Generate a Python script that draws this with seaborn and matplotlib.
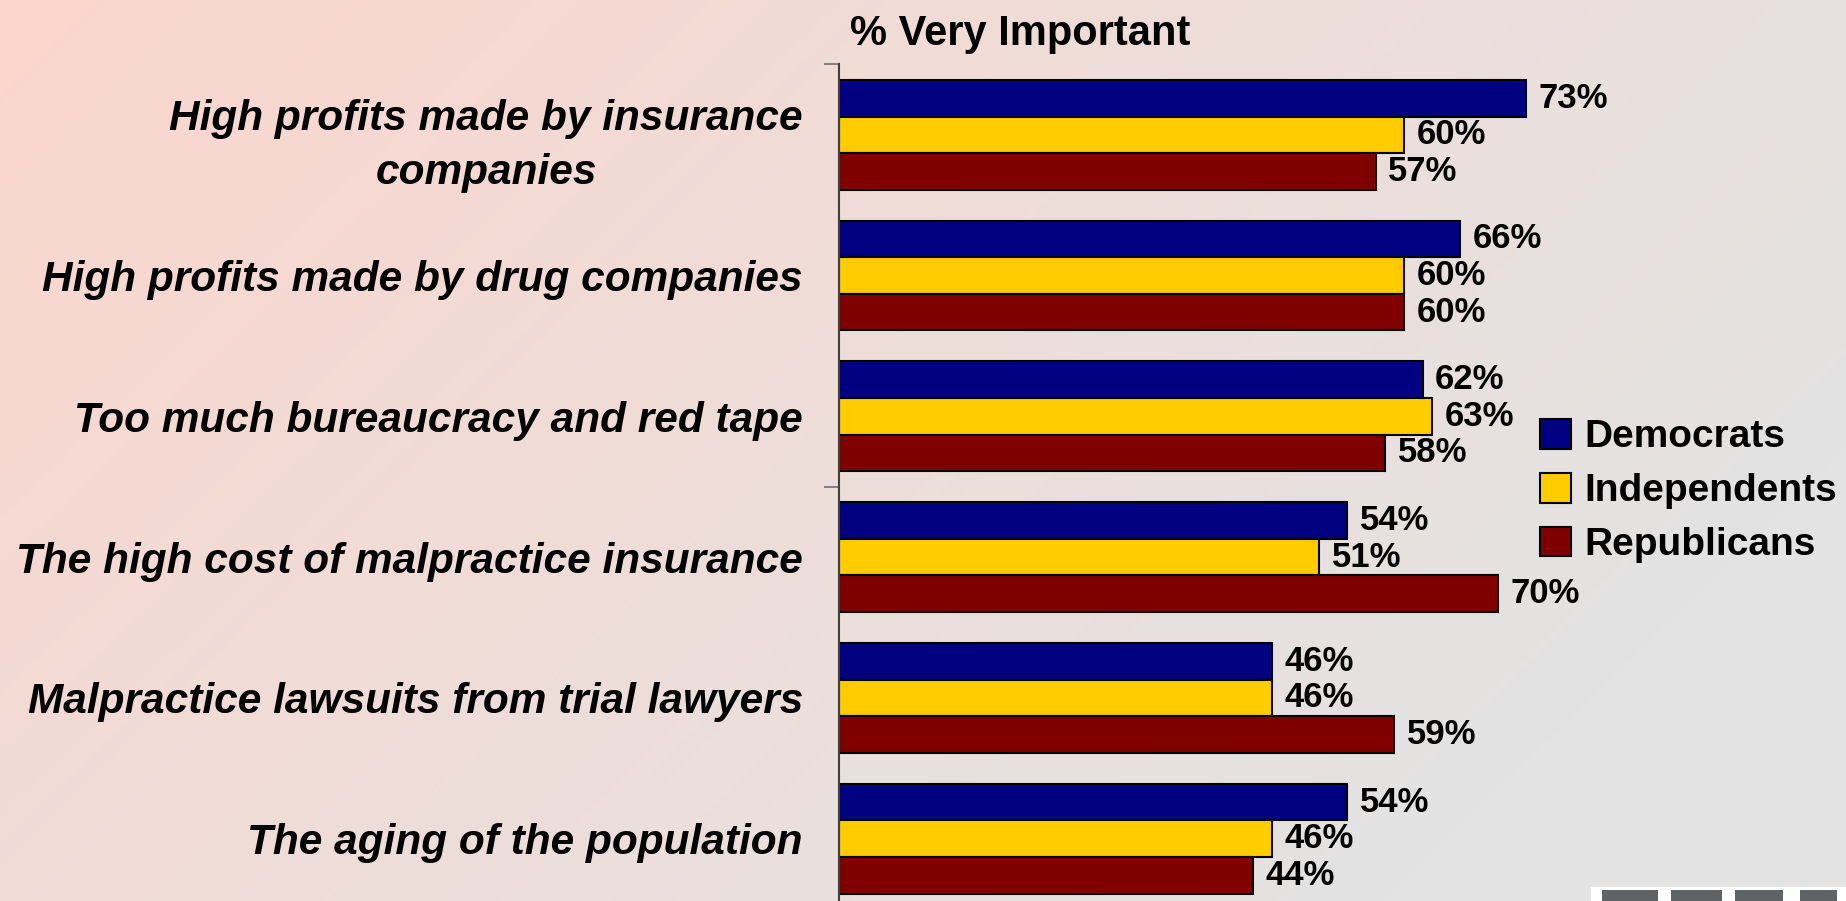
import matplotlib

matplotlib.use("Agg")
import matplotlib.pyplot as plt
import numpy as np
import pandas as pd
import seaborn as sns
from matplotlib.colors import to_rgb
from matplotlib.patches import Rectangle

issues = [
    "High profits made by insurance\ncompanies",
    "High profits made by drug companies",
    "Too much bureaucracy and red tape",
    "The high cost of malpractice insurance",
    "Malpractice lawsuits from trial lawyers",
    "The aging of the population",
]
parties = ["Democrats", "Independents", "Republicans"]
democrats = [73, 66, 62, 54, 46, 54]
independents = [60, 60, 63, 51, 46, 46]
republicans = [57, 60, 58, 70, 59, 44]
party_colors = ["#000080", "#FFCC00", "#800000"]

df = pd.DataFrame(
    {
        "Issue": issues * 3,
        "Party": [p for p in parties for _ in issues],
        "Pct": democrats + independents + republicans,
    }
)

sns.set_theme(style="white")
plt.rcParams["font.family"] = ["Liberation Sans", "DejaVu Sans"]
plt.rcParams["text.color"] = "black"
plt.rcParams["ytick.color"] = "black"

fig = plt.figure(figsize=(18.46, 9.01), dpi=100)

# pink-to-grey backdrop
bg = fig.add_axes([0, 0, 1, 1], zorder=-10)
xx, yy = np.meshgrid(np.linspace(0, 1, 400), np.linspace(0, 1, 200))
t = np.clip(0.8 * xx + 0.4 * yy, 0, 1)[..., None]
pink, grey = np.array(to_rgb("#FBD6CD")), np.array(to_rgb("#E3E3E3"))
bg.imshow(pink * (1 - t) + grey * t, aspect="auto", extent=[0, 1, 1, 0])
bg.set_axis_off()

ax = fig.add_axes([0.4545, -0.0089, 0.51, 0.9374])
ax.patch.set_alpha(0)
sns.barplot(
    data=df, x="Pct", y="Issue", hue="Party", orient="h", palette=party_colors,
    saturation=1, width=0.78, edgecolor="black", linewidth=1.5, ax=ax, errorbar=None,
)
ax.set_xlim(0, 100)
ax.set_ylim(5.5, -0.5)
for container in ax.containers:
    ax.bar_label(container, fmt="{:.0f}%", padding=9, fontsize=25, fontweight="bold",
                 color="black")

ax.set_xlabel("")
ax.set_ylabel("")
ax.set_xticks([])
for side in ["top", "right", "bottom"]:
    ax.spines[side].set_visible(False)
ax.spines["left"].set_color("#404040")
ax.spines["left"].set_linewidth(1.5)
ax.tick_params(axis="y", which="major", length=0, pad=26)
ax.set_yticks([-0.5, 2.5, 5.5], minor=True)
ax.tick_params(axis="y", which="minor", left=True, length=11, color="#707070", width=1.2)
for lbl in ax.get_yticklabels():
    lbl.set_fontsize(30.5)
    lbl.set_fontweight("bold")
    lbl.set_fontstyle("italic")
    lbl.set_multialignment("center")
    lbl.set_linespacing(1.45)
    lbl.set_color("black")

handles, labels = ax.get_legend_handles_labels()
ax.get_legend().remove()
fig.legend(
    handles, labels, loc="center left", bbox_to_anchor=(0.834, 0.455), frameon=False,
    prop={"size": 28, "weight": "bold"}, handlelength=0.8, handleheight=0.8,
    handletextpad=0.35, labelspacing=0.45, borderpad=0, borderaxespad=0,
)

fig.text(0.4605, 0.962, "% Very Important", fontsize=30, fontweight="bold", va="center")

# corner logo, mostly cut off by the slide edge
fig.patches.append(Rectangle((0.862, 0), 0.14, 0.016, transform=fig.transFigure,
                             facecolor="white", edgecolor="none"))
for x0, w in [(0.868, 0.03), (0.905, 0.028), (0.940, 0.026), (0.975, 0.02)]:
    fig.patches.append(Rectangle((x0, 0), w, 0.012, transform=fig.transFigure,
                                 facecolor="#5F6366", edgecolor="none"))

fig.savefig("out.png", dpi=100)
